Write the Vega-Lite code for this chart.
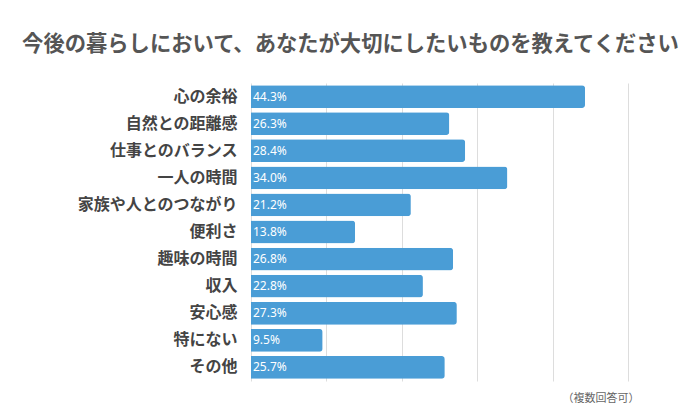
{
  "$schema": "https://vega.github.io/schema/vega-lite/v6.json",
  "autosize": "none",
  "width": 377,
  "height": 298,
  "padding": {"left": 251, "top": 83, "right": 72, "bottom": 39},
  "background": "white",
  "config": {
    "view": {"stroke": null},
    "font": "Noto Sans CJK JP"
  },
  "title": {
    "text": "今後の暮らしにおいて、あなたが大切にしたいものを教えてください",
    "fontSize": 21.3,
    "fontWeight": "bold",
    "color": "#555555",
    "anchor": "middle",
    "dx": -89,
    "offset": 28,
    "font": "Noto Sans CJK JP"
  },
  "data": {
    "values": [
      {"item": "心の余裕", "pct": 44.3},
      {"item": "自然との距離感", "pct": 26.3},
      {"item": "仕事とのバランス", "pct": 28.4},
      {"item": "一人の時間", "pct": 34.0},
      {"item": "家族や人とのつながり", "pct": 21.2},
      {"item": "便利さ", "pct": 13.8},
      {"item": "趣味の時間", "pct": 26.8},
      {"item": "収入", "pct": 22.8},
      {"item": "安心感", "pct": 27.3},
      {"item": "特にない", "pct": 9.5},
      {"item": "その他", "pct": 25.7}
    ]
  },
  "transform": [
    {"calculate": "format(datum.pct, '.1f') + '%'", "as": "label"}
  ],
  "encoding": {
    "y": {
      "field": "item",
      "type": "nominal",
      "sort": null,
      "scale": {"paddingInner": 0.16, "paddingOuter": 0.08},
      "axis": {
        "title": null,
        "ticks": false,
        "domain": false,
        "labelFontSize": 16,
        "labelFontWeight": "bold",
        "labelColor": "#444444",
        "labelPadding": 14,
        "labelFont": "Noto Sans CJK JP"
      }
    },
    "x": {
      "field": "pct",
      "type": "quantitative",
      "scale": {"domain": [0, 50]},
      "axis": {
        "values": [0, 10, 20, 30, 40, 50],
        "labels": false,
        "ticks": false,
        "domain": false,
        "grid": true,
        "gridColor": "#dddddd",
        "title": "（複数回答可）",
        "titleAnchor": "end",
        "titleAlign": "right",
        "titleX": 388,
        "titleFontSize": 11,
        "titleFontWeight": "normal",
        "titleColor": "#666666",
        "titlePadding": 11,
        "titleFont": "Noto Sans CJK JP"
      }
    }
  },
  "layer": [
    {
      "mark": {"type": "bar", "color": "#4a9dd6", "cornerRadiusEnd": 3}
    },
    {
      "mark": {
        "type": "text",
        "align": "left",
        "baseline": "middle",
        "dx": 2,
        "color": "white",
        "fontSize": 12,
        "font": "Noto Sans"
      },
      "encoding": {
        "x": {"datum": 0},
        "text": {"field": "label", "type": "nominal"}
      }
    }
  ]
}
